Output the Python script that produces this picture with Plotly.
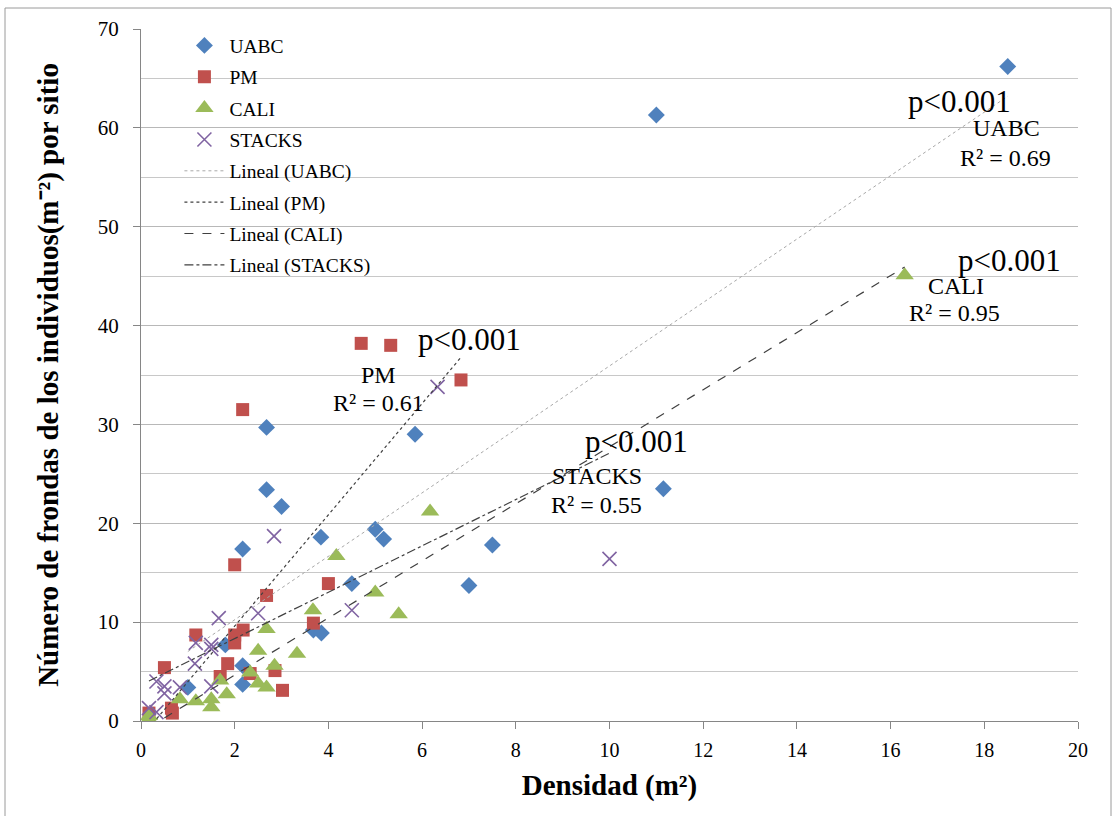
import numpy as np
import plotly.graph_objects as go

# ---------------- data ----------------
uabc_x = [18.5, 11.0, 11.15, 5.85, 2.68, 2.68, 3.0, 2.17, 3.84, 5.0, 5.18, 7.5, 4.5, 7.0, 3.68, 3.85, 2.17, 2.17, 1.8, 1.0]
uabc_y = [66.2, 61.3, 23.5, 29.0, 29.7, 23.4, 21.7, 17.4, 18.6, 19.4, 18.4, 17.8, 13.9, 13.7, 9.2, 8.9, 5.6, 3.7, 7.7, 3.4]

pm_x = [4.7, 5.33, 6.83, 2.17, 2.0, 2.68, 4.0, 3.68, 1.17, 2.18, 2.0, 2.0, 1.85, 1.69, 2.33, 2.86, 3.02, 0.5, 0.17, 0.65, 0.67]
pm_y = [38.2, 38.0, 34.5, 31.5, 15.8, 12.7, 13.9, 9.9, 8.7, 9.2, 8.7, 7.9, 5.8, 4.5, 4.8, 5.1, 3.1, 5.4, 0.8, 1.3, 0.8]

cali_x = [16.3, 6.17, 4.17, 5.0, 5.5, 3.67, 2.68, 2.5, 3.33, 2.85, 2.33, 2.5, 2.68, 1.69, 1.83, 1.5, 1.5, 1.17, 0.83, 0.17, 0.17]
cali_y = [45.1, 21.2, 16.7, 13.0, 10.8, 11.2, 9.3, 7.1, 6.8, 5.6, 4.9, 3.8, 3.4, 4.1, 2.7, 2.2, 1.4, 2.0, 2.2, 0.5, 0.2]

stacks_x = [6.33, 2.84, 10.0, 4.5, 1.66, 2.5, 1.17, 1.5, 1.5, 1.15, 0.33, 0.5, 0.5, 0.83, 1.5, 0.17, 0.33]
stacks_y = [33.8, 18.7, 16.4, 11.2, 10.4, 10.9, 7.9, 7.7, 7.3, 5.8, 4.0, 3.5, 2.8, 3.4, 3.5, 1.3, 0.9]

series_names = ["UABC", "PM", "CALI", "STACKS"]
x_ticks = [0, 2, 4, 6, 8, 10, 12, 14, 16, 18, 20]
y_ticks = [0, 10, 20, 30, 40, 50, 60, 70]

# labels on the chart: (text, x, y)
p_labels = [("p<0.001", 17.48, 62.7), ("p<0.001", 18.53, 46.6), ("p<0.001", 7.02, 38.6), ("p<0.001", 10.57, 28.3)]
name_labels = [("UABC", 18.48, 60.0), ("CALI", 17.40, 44.0), ("PM", 5.06, 35.0), ("STACKS", 9.73, 24.8)]
r2_labels = [("R² = 0.69", 18.46, 56.95), ("R² = 0.95", 17.37, 41.3), ("R² = 0.61", 5.06, 32.2), ("R² = 0.55", 9.73, 21.8)]

FONT = "Liberation Serif, Times New Roman, serif"

fig = go.Figure()

marker_styles = {
    "UABC": dict(symbol="diamond", color="#4F81BD", size=13),
    "PM": dict(symbol="square", color="#C0504D", size=13),
    "CALI": dict(symbol="triangle-up", color="#9BBB59", size=16),
    "STACKS": dict(symbol="x-thin", color="#8064A2", size=14, line=dict(color="#8064A2", width=1.6)),
}
data = {
    "UABC": (uabc_x, uabc_y),
    "PM": (pm_x, pm_y),
    "CALI": (cali_x, cali_y),
    "STACKS": (stacks_x, stacks_y),
}

for i, name in enumerate(series_names):
    xs, ys = data[name]
    fig.add_trace(go.Scatter(x=xs, y=ys, mode="markers", name=name,
                             marker=marker_styles[name], legendgroup=f"g{i}"))

line_styles = {
    "UABC": dict(color="#a8a8a8", width=1, dash="dot"),
    "PM": dict(color="#404040", width=1.2, dash="dot"),
    "CALI": dict(color="#404040", width=1.2, dash="dash"),
    "STACKS": dict(color="#404040", width=1.2, dash="dashdot"),
}
for i, name in enumerate(series_names):
    xs, ys = data[name]
    xa = np.array(xs); ya = np.array(ys)
    m, b = np.polyfit(xa, ya, 1)
    xl = np.array([xa.min(), xa.max()])
    fig.add_trace(go.Scatter(x=xl, y=m * xl + b, mode="lines", name=f"Lineal ({name})",
                             line=line_styles[name], legendgroup=f"g{i+4}"))

for t, x, y in p_labels:
    fig.add_annotation(x=x, y=y, text=t, showarrow=False, font=dict(size=31, color="black", family=FONT))
for t, x, y in name_labels:
    fig.add_annotation(x=x, y=y, text=t, showarrow=False, font=dict(size=24, color="black", family=FONT))
for t, x, y in r2_labels:
    fig.add_annotation(x=x, y=y, text=t, showarrow=False, font=dict(size=24, color="black", family=FONT))

# outer chart border
L, R, T, B = 141, 37, 29, 95
W, H = 1115 - L - R, 816 - T - B
def px_x(p): return (p - L) / W
def px_y(p): return (816 - B - p) / H
fig.add_shape(type="rect", xref="paper", yref="paper",
              x0=px_x(5), x1=px_x(1111), y0=px_y(830), y1=px_y(8),
              line=dict(color="#9a9a9a", width=1), fillcolor="rgba(0,0,0,0)", layer="below")

fig.update_layout(
    width=1115, height=816,
    margin=dict(l=L, r=R, t=T, b=B),
    paper_bgcolor="white", plot_bgcolor="white",
    font=dict(family=FONT, color="black"),
    showlegend=True,
    legend=dict(x=0.041, y=1.004, xanchor="left", yanchor="top",
                font=dict(size=19.5, family=FONT, color="black"),
                bgcolor="rgba(0,0,0,0)", tracegroupgap=3, itemwidth=40),
    xaxis=dict(range=[0, 20], tickvals=x_ticks, showgrid=False, zeroline=False,
               showline=True, linecolor="#868686", linewidth=1,
               ticks="outside", ticklen=7, tickcolor="#868686", ticklabelstandoff=4,
               tickfont=dict(size=20, family=FONT, color="black"),
               title=dict(text="<b>Densidad (m²)</b>", font=dict(size=29, family=FONT, color="black"), standoff=14)),
    yaxis=dict(range=[0, 70], tickvals=y_ticks, showgrid=True, gridcolor="#b8b8b8", gridwidth=1,
               zeroline=False, showline=True, linecolor="#868686", linewidth=1,
               ticks="outside", ticklen=7, tickcolor="#868686", ticklabelstandoff=10,
               minor=dict(dtick=5, showgrid=True, gridcolor="#c8c8c8", gridwidth=1, ticks=""),
               tickfont=dict(size=21, family=FONT, color="black"),
               title=dict(text="<b>Número de frondas de los individuos(m⁻²) por sitio</b>",
                          font=dict(size=29, family=FONT, color="black"), standoff=30)),
)

fig.write_html("out.html")
